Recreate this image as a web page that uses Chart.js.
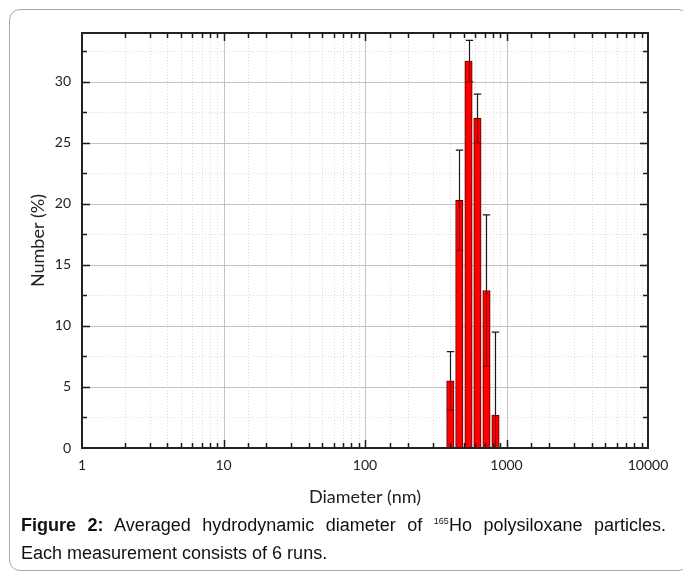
<!DOCTYPE html>
<html>
<head>
<meta charset="utf-8">
<script src="https://cdn.jsdelivr.net/npm/chart.js@4/dist/chart.umd.min.js"></script>
<style>
  html, body { margin: 0; padding: 0; background: #fff; }
  body { width: 683px; height: 574px; position: relative; overflow: hidden; }
  #frame { position: absolute; left: 9px; top: 9px; width: 680px; height: 562px;
           border: 1px solid #a8a8a8; border-radius: 11px; box-sizing: border-box; }
  #chartWrap { position: absolute; left: 0; top: 0; width: 683px; height: 512px; }
  #caption { position: absolute; left: 21px; top: 511px; width: 645px;
             font-family: "Liberation Sans", Arial, sans-serif; font-size: 18px;
             line-height: 28px; color: #111; }
  #caption .l1 { text-align: justify; text-align-last: justify; white-space: nowrap; }
  #caption sup { font-size: 9px; vertical-align: 7px; line-height: 0; }
</style>
</head>
<body>
<div id="frame"></div>
<div id="chartWrap"><canvas id="c" width="683" height="512"></canvas></div>
<div id="caption">
  <div class="l1"><b>Figure 2:</b> Averaged hydrodynamic diameter of <sup>165</sup>Ho polysiloxane particles.</div>
  <div>Each measurement consists of 6 runs.</div>
</div>
<script>
// ---- data ----
const diameters = [401, 464, 539, 623, 722, 836];       // bin centres (nm)
const numberPct = [5.5, 20.3, 31.7, 27.0, 12.9, 2.7];     // Number (%)
const errorPct  = [2.4, 4.1, 1.7, 2.0, 6.2, 6.8];         // +/- error
const xMajorTicks = [1, 10, 100, 1000, 10000];
const xTickLabels = ['1', '10', '100', '1000', '10000'];
const yTickValues = [0, 2.5, 5, 7.5, 10, 12.5, 15, 17.5, 20, 22.5, 25, 27.5, 30, 32.5];
const yTickLabels = ['0', '', '5', '', '10', '', '15', '', '20', '', '25', '', '30', ''];

const PLOT = { left: 82, right: 648, top: 33, bottom: 448 };

const isMajorX = v => xMajorTicks.some(m => Math.abs(Math.log10(v) - Math.log10(m)) < 1e-6);
const isMajorY = v => Math.abs(v / 5 - Math.round(v / 5)) < 1e-6;

const customDraw = {
  id: 'customDraw',
  beforeDatasetsDraw(chart) {
    const { ctx, chartArea: a, scales: { x, y } } = chart;
    ctx.save();
    ctx.lineWidth = 1;
    x.ticks.forEach(t => {
      const px = Math.round(x.getPixelForValue(t.value)) + 0.5;
      if (px <= a.left + 1 || px >= a.right - 1) return;
      if (isMajorX(t.value)) { ctx.setLineDash([]); ctx.strokeStyle = '#c4c4c4'; }
      else { ctx.setLineDash([1, 2]); ctx.strokeStyle = '#dcdcdc'; }
      ctx.beginPath(); ctx.moveTo(px, a.top); ctx.lineTo(px, a.bottom); ctx.stroke();
    });
    y.ticks.forEach(t => {
      const py = Math.round(y.getPixelForValue(t.value)) + 0.5;
      if (py >= a.bottom - 1 || py <= a.top + 1) return;
      if (isMajorY(t.value)) { ctx.setLineDash([]); ctx.strokeStyle = '#c4c4c4'; }
      else { ctx.setLineDash([1, 2]); ctx.strokeStyle = '#dcdcdc'; }
      ctx.beginPath(); ctx.moveTo(a.left, py); ctx.lineTo(a.right, py); ctx.stroke();
    });
    ctx.restore();
  },
  afterDatasetsDraw(chart) {
    const { ctx, chartArea: a, scales: { x, y } } = chart;
    const meta = chart.getDatasetMeta(0);
    ctx.save();
    meta.data.forEach((bar, i) => {
      const v = numberPct[i], e = errorPct[i];
      const cx = Math.round(bar.x) + 0.5;
      const half = bar.width / 2;
      const yTop = y.getPixelForValue(v + e);
      const yBar = y.getPixelForValue(v);
      const yLow = y.getPixelForValue(Math.max(0, v - e));
      ctx.lineWidth = 1.2;
      ctx.strokeStyle = '#1a1a1a';
      ctx.beginPath();
      ctx.moveTo(cx, yTop); ctx.lineTo(cx, yBar);
      ctx.moveTo(cx - half, yTop); ctx.lineTo(cx + half, yTop);
      ctx.stroke();
      ctx.strokeStyle = '#8a0000';
      ctx.beginPath();
      ctx.moveTo(cx, yBar); ctx.lineTo(cx, yLow);
      if (v - e > 0) { ctx.moveTo(cx - half, yLow); ctx.lineTo(cx + half, yLow); }
      ctx.stroke();
    });
    ctx.strokeStyle = '#1a1a1a';
    ctx.lineWidth = 1.5;
    x.ticks.forEach(t => {
      const px = Math.round(x.getPixelForValue(t.value)) + 0.5;
      if (px <= a.left + 1 || px >= a.right - 1) return;
      const len = isMajorX(t.value) ? 8 : 5;
      ctx.beginPath();
      ctx.moveTo(px, a.bottom); ctx.lineTo(px, a.bottom - len);
      ctx.moveTo(px, a.top); ctx.lineTo(px, a.top + len);
      ctx.stroke();
    });
    y.ticks.forEach(t => {
      const py = Math.round(y.getPixelForValue(t.value)) + 0.5;
      if (py >= a.bottom - 1 || py <= a.top + 1) return;
      const len = isMajorY(t.value) ? 8 : 5;
      ctx.beginPath();
      ctx.moveTo(a.left, py); ctx.lineTo(a.left + len, py);
      ctx.moveTo(a.right, py); ctx.lineTo(a.right - len, py);
      ctx.stroke();
    });
    ctx.lineWidth = 2;
    ctx.strokeStyle = '#222';
    ctx.strokeRect(a.left, a.top, a.right - a.left, a.bottom - a.top);
    ctx.restore();
  }
};

new Chart(document.getElementById('c'), {
  type: 'bar',
  data: {
    datasets: [{
      data: diameters.map((d, i) => ({ x: d, y: numberPct[i] })),
      backgroundColor: '#ff0000',
      borderColor: '#5a0000',
      borderWidth: 1,
      barThickness: 7.4
    }]
  },
  options: {
    responsive: false,
    animation: false,
    events: [],
    layout: { padding: { left: 0, top: PLOT.top, right: 683 - PLOT.right, bottom: 0 } },
    plugins: { legend: { display: false }, tooltip: { enabled: false } },
    scales: {
      x: {
        type: 'logarithmic',
        min: 1, max: 10000,
        grid: { display: false },
        border: { display: false },
        ticks: {
          autoSkip: false, maxRotation: 0, padding: 1,
          color: '#222', font: { family: 'Lato', size: 14 },
          callback: v => { const k = xMajorTicks.findIndex(m => Math.abs(m - v) < 1e-6 * m); return k >= 0 ? xTickLabels[k] : ''; }
        },
        title: { display: true, text: 'Diameter (nm)', color: '#222', font: { family: 'Lato', size: 18 }, padding: { top: 4, bottom: 4 } },
        afterFit: s => { s.height = 512 - PLOT.bottom; }
      },
      y: {
        type: 'linear',
        min: 0, max: 34,
        grid: { display: false },
        border: { display: false },
        afterBuildTicks: s => { s.ticks = yTickValues.map(v => ({ value: v })); },
        ticks: {
          autoSkip: false, padding: 3,
          color: '#222', font: { family: 'Lato', size: 14 },
          callback: (v) => { const k = yTickValues.indexOf(v); return k >= 0 ? yTickLabels[k] : ''; }
        },
        title: { display: true, text: 'Number (%)', color: '#222', font: { family: 'Lato', size: 18 }, padding: { top: 27, bottom: 0 } },
        afterFit: s => { s.width = PLOT.left; }
      }
    }
  },
  plugins: [customDraw]
});
</script>
</body>
</html>
